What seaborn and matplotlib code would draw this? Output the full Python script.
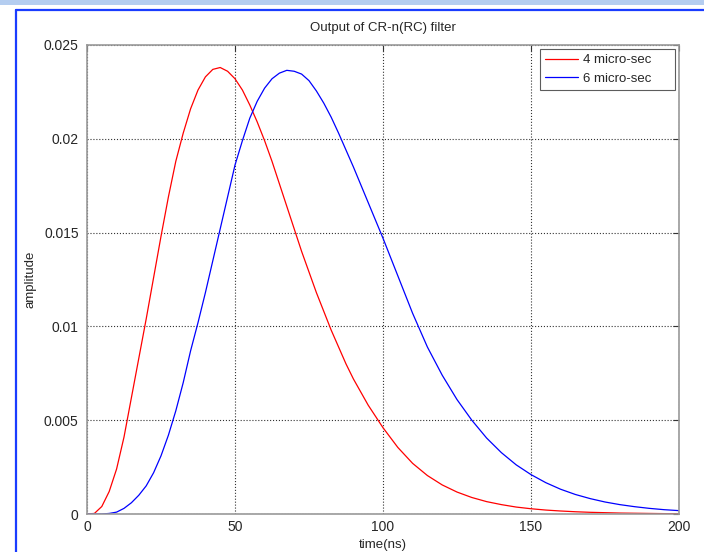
import pandas as pd
import seaborn as sns
import matplotlib.pyplot as plt
from matplotlib.lines import Line2D
from matplotlib.patches import Rectangle

# values (time in ns)
time_ns = [0, 2.5, 5, 7.5, 10, 12.5, 15, 17.5, 20, 22.5, 25, 27.5, 30,
           32.5, 35, 37.5, 40, 42.5, 45, 47.5, 50, 52.5, 55, 57.5, 60,
           62.5, 65, 67.5, 70, 72.5, 75, 77.5, 80, 82.5, 85, 87.5, 90,
           95, 100, 105, 110, 115, 120, 125, 130, 135, 140, 145, 150,
           155, 160, 165, 170, 175, 180, 185, 190, 195, 200]

amp_4us = [0, 0.00003, 0.0004, 0.0012, 0.0024, 0.0041, 0.0062, 0.0083, 0.0104, 0.0126, 0.0148, 0.0169, 0.0188,
           0.0203, 0.0216, 0.0226, 0.0233, 0.0237, 0.0238, 0.0236, 0.0232, 0.0226, 0.0218, 0.0209, 0.0199,
           0.0188, 0.0176, 0.0164, 0.0152, 0.0140, 0.0129, 0.0118, 0.0108, 0.0098, 0.0089, 0.0080, 0.0072,
           0.0058, 0.0046, 0.00355, 0.0027, 0.00205, 0.00155, 0.00117, 0.00088, 0.00066, 0.0005, 0.00037, 0.00028,
           0.00021, 0.00016, 0.00012, 0.00009, 0.00007, 0.00005, 0.00004, 0.00003, 0.00002, 0.00002]

amp_6us = [0, 0, 0, 0.00003, 0.0001, 0.0003, 0.0006, 0.0010, 0.0015, 0.0022, 0.0031, 0.0042, 0.0055,
           0.0070, 0.0087, 0.0102, 0.0118, 0.0135, 0.0152, 0.0169, 0.0186, 0.0199, 0.0211, 0.0220, 0.0227,
           0.0232, 0.0235, 0.02365, 0.0236, 0.02345, 0.0231, 0.02255, 0.0219, 0.02115, 0.0203, 0.0194, 0.0185,
           0.0166, 0.0147, 0.0127, 0.0107, 0.0089, 0.0074, 0.0061, 0.0050, 0.00405, 0.00327, 0.00262, 0.0021,
           0.00167, 0.00132, 0.00104, 0.00082, 0.00064, 0.0005, 0.00039, 0.0003, 0.00023, 0.00018]

labels = ["4 micro-sec", "6 micro-sec"]
x_ticks = [0, 50, 100, 150, 200]
y_ticks = [0, 0.005, 0.01, 0.015, 0.02, 0.025]
y_tick_labels = ["0", "0.005", "0.01", "0.015", "0.02", "0.025"]

df = pd.DataFrame({
    "time": time_ns * 2,
    "amplitude": amp_4us + amp_6us,
    "filter": [labels[0]] * len(time_ns) + [labels[1]] * len(time_ns),
})

sns.set_style("white")
plt.rcParams["font.family"] = ["Liberation Sans", "DejaVu Sans"]

fig = plt.figure(figsize=(7.04, 5.52), dpi=100)
ax = fig.add_axes([87 / 704, 1 - 514 / 552, 592 / 704, 469 / 552])

sns.lineplot(data=df, x="time", y="amplitude", hue="filter",
             palette=["#ff0000", "#0000ff"], linewidth=0.9, ax=ax)

ax.set_xlim(0, 200)
ax.set_ylim(0, 0.025)
ax.set_xticks(x_ticks)
ax.set_xticklabels([str(t) for t in x_ticks])
ax.set_yticks(y_ticks)
ax.set_yticklabels(y_tick_labels)
ax.tick_params(direction="in", length=4, width=0.8, color="#333333",
               top=True, right=True, labelsize=10, pad=4)
ax.tick_params(axis="y", pad=6)
ax.grid(True, linestyle=":", linewidth=0.8, color="#333333")
for s in ax.spines.values():
    s.set_color("#999999")
    s.set_linewidth(1.2)

ax.set_title("Output of CR-n(RC) filter", fontsize=9.5, pad=10)
ax.set_xlabel("time(ns)", fontsize=9.5, labelpad=4)
ax.set_ylabel("amplitude", fontsize=9.5, labelpad=5)

# MATLAB legends leave room on the right of the text
handles, labs = ax.get_legend_handles_labels()
leg = ax.legend(handles, [l + "     " for l in labs], loc="upper right",
                fontsize=9.5, frameon=True, fancybox=False,
                edgecolor="#333333", borderaxespad=0.3,
                handlelength=2.5, handletextpad=0.4, borderpad=0.4,
                labelspacing=0.45)
leg.get_frame().set_linewidth(0.8)

# screenshot window frame
fig.add_artist(Rectangle((0, 1 - 5 / 552), 1, 5 / 552, transform=fig.transFigure,
                         color="#b4cdf0", lw=0))
fig.add_artist(Line2D([16 / 704, 1], [1 - 10 / 552, 1 - 10 / 552],
                      transform=fig.transFigure, color="#1a3cff", lw=1.6))
fig.add_artist(Line2D([16 / 704, 16 / 704], [0, 1 - 10 / 552],
                      transform=fig.transFigure, color="#1a3cff", lw=1.6))

fig.savefig("out.png", dpi=100)
